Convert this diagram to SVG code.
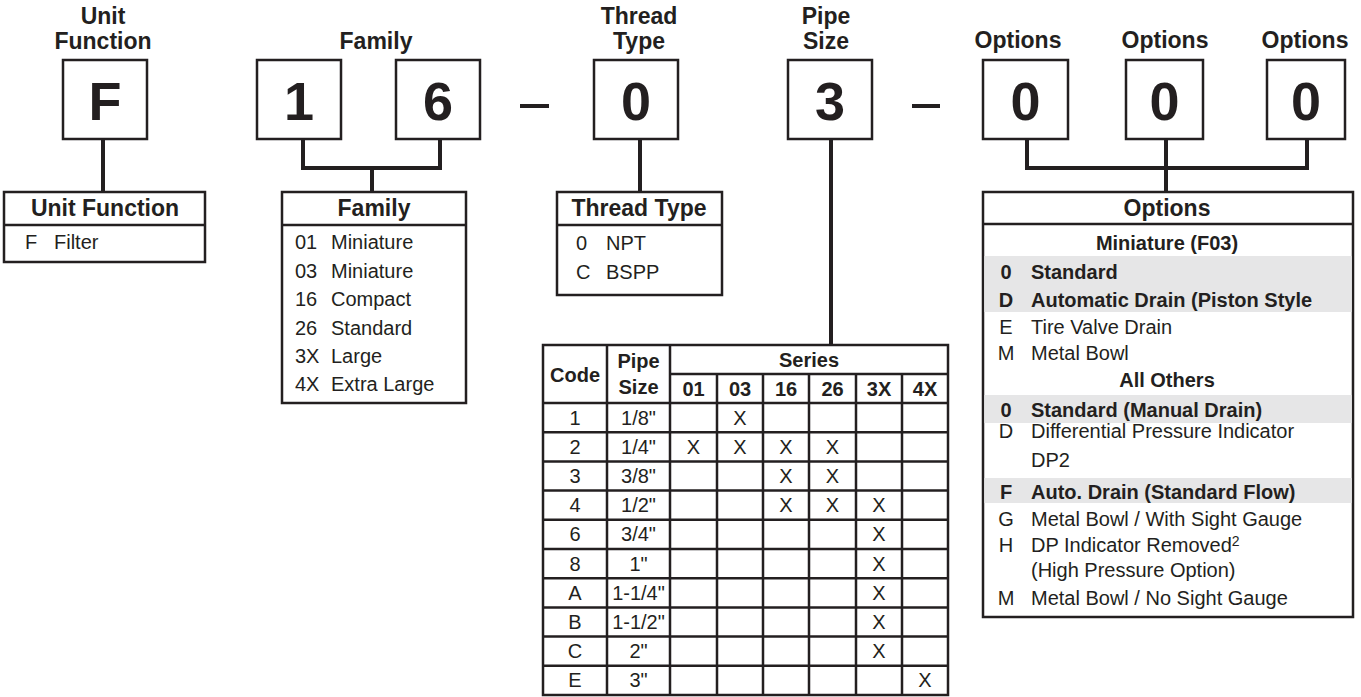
<svg xmlns="http://www.w3.org/2000/svg" width="1361" height="697" viewBox="0 0 1361 697">
<style>
text{font-family:"Liberation Sans",Arial,Helvetica,sans-serif;fill:#231f20}
.t{font-size:23px;font-weight:bold;text-anchor:middle}
.d{font-size:54px;font-weight:bold;text-anchor:middle}
.h{font-size:23px;font-weight:bold;text-anchor:middle}
.b{font-size:20px}
.bb{font-size:20px;font-weight:bold}
.c{text-anchor:middle}
.box{fill:#fff;stroke:#231f20;stroke-width:2.5}
.tbl{fill:#fff;stroke:#231f20;stroke-width:2.5}
.ln{stroke:#231f20;stroke-width:2.5;fill:none}
.con{stroke:#231f20;stroke-width:4;fill:none}
.band{fill:#e6e6e7}
</style>
<rect width="1361" height="697" fill="#fff"/>

<g id="connectors">
<line class="con" x1="103" y1="139" x2="103" y2="192"/>
<polyline class="con" points="303,139 303,168 440,168 440,139"/>
<line class="con" x1="372" y1="168" x2="372" y2="192"/>
<line class="con" x1="640" y1="139" x2="640" y2="192"/>
<line class="con" x1="831" y1="139" x2="831" y2="345"/>
<polyline class="con" points="1027,139 1027,168 1307,168 1307,139"/>
<line class="con" x1="1166" y1="139" x2="1166" y2="192"/>
<rect x="520" y="104" width="29" height="4" fill="#231f20"/>
<rect x="912" y="104" width="28" height="4" fill="#231f20"/>
</g>

<g id="code-unit-function">
<text class="t" x="103" y="24">Unit</text>
<text class="t" x="103" y="49">Function</text>
<rect class="box" x="63" y="60" width="84" height="79"/>
<text class="d" x="105" y="120">F</text>
</g>

<g id="code-family">
<text class="t" x="376" y="49">Family</text>
<rect class="box" x="257" y="60" width="84" height="79"/>
<text class="d" x="299" y="120">1</text>
<rect class="box" x="396" y="60" width="84" height="79"/>
<text class="d" x="438" y="120">6</text>
</g>

<g id="code-thread">
<text class="t" x="639" y="24">Thread</text>
<text class="t" x="639" y="49">Type</text>
<rect class="box" x="594" y="60" width="84" height="79"/>
<text class="d" x="636" y="120">0</text>
</g>

<g id="code-pipe">
<text class="t" x="826" y="24">Pipe</text>
<text class="t" x="826" y="49">Size</text>
<rect class="box" x="788" y="60" width="84" height="79"/>
<text class="d" x="830" y="120">3</text>
</g>

<g id="code-options">
<text class="t" x="1018" y="48">Options</text>
<text class="t" x="1165" y="48">Options</text>
<text class="t" x="1305" y="48">Options</text>
<rect class="box" x="983" y="60" width="85" height="79"/>
<text class="d" x="1025.5" y="120">0</text>
<rect class="box" x="1126" y="60" width="77" height="79"/>
<text class="d" x="1164.5" y="120">0</text>
<rect class="box" x="1267" y="60" width="78" height="79"/>
<text class="d" x="1306" y="120">0</text>
</g>

<g id="table-unit-function">
<rect class="tbl" x="4" y="192" width="201" height="70"/>
<line class="ln" x1="4" y1="225" x2="205" y2="225"/>
<text class="h" x="105" y="216">Unit Function</text>
<text class="b" x="25" y="249">F</text>
<text class="b" x="54" y="249">Filter</text>
</g>

<g id="table-family">
<rect class="tbl" x="282" y="192" width="184" height="211"/>
<line class="ln" x1="282" y1="225" x2="466" y2="225"/>
<text class="h" x="374" y="216">Family</text>
<text class="b" x="295" y="249">01</text><text class="b" x="331" y="249">Miniature</text>
<text class="b" x="295" y="277.5">03</text><text class="b" x="331" y="277.5">Miniature</text>
<text class="b" x="295" y="306">16</text><text class="b" x="331" y="306">Compact</text>
<text class="b" x="295" y="334.5">26</text><text class="b" x="331" y="334.5">Standard</text>
<text class="b" x="295" y="363">3X</text><text class="b" x="331" y="363">Large</text>
<text class="b" x="295" y="391">4X</text><text class="b" x="331" y="391">Extra Large</text>
</g>

<g id="table-thread">
<rect class="tbl" x="557" y="192" width="165" height="103"/>
<line class="ln" x1="557" y1="225" x2="722" y2="225"/>
<text class="h" x="639" y="216">Thread Type</text>
<text class="b" x="576" y="250">0</text><text class="b" x="606" y="250">NPT</text>
<text class="b" x="576" y="279">C</text><text class="b" x="606" y="279">BSPP</text>
</g>

<g id="table-pipe">
<rect class="tbl" x="543" y="345" width="405" height="350"/>
<line class="ln" x1="670" y1="374" x2="948" y2="374"/>
<line class="ln" x1="543" y1="403" x2="948" y2="403"/>
<line class="ln" x1="607" y1="345" x2="607" y2="695"/>
<line class="ln" x1="670" y1="345" x2="670" y2="695"/>
<line class="ln" x1="717" y1="374" x2="717" y2="695"/>
<line class="ln" x1="763" y1="374" x2="763" y2="695"/>
<line class="ln" x1="809" y1="374" x2="809" y2="695"/>
<line class="ln" x1="856" y1="374" x2="856" y2="695"/>
<line class="ln" x1="902" y1="374" x2="902" y2="695"/>
<line class="ln" x1="543" y1="432.2" x2="948" y2="432.2"/>
<line class="ln" x1="543" y1="461.4" x2="948" y2="461.4"/>
<line class="ln" x1="543" y1="490.6" x2="948" y2="490.6"/>
<line class="ln" x1="543" y1="519.8" x2="948" y2="519.8"/>
<line class="ln" x1="543" y1="549" x2="948" y2="549"/>
<line class="ln" x1="543" y1="578.2" x2="948" y2="578.2"/>
<line class="ln" x1="543" y1="607.4" x2="948" y2="607.4"/>
<line class="ln" x1="543" y1="636.6" x2="948" y2="636.6"/>
<line class="ln" x1="543" y1="665.8" x2="948" y2="665.8"/>
<text class="bb c" x="575" y="382">Code</text>
<text class="bb c" x="638.5" y="368">Pipe</text>
<text class="bb c" x="638.5" y="394">Size</text>
<text class="bb c" x="809" y="367">Series</text>
<text class="bb c" x="693.5" y="396">01</text>
<text class="bb c" x="740" y="396">03</text>
<text class="bb c" x="786" y="396">16</text>
<text class="bb c" x="832.5" y="396">26</text>
<text class="bb c" x="879" y="396">3X</text>
<text class="bb c" x="925" y="396">4X</text>
<text class="b c" x="575" y="424.5">1</text><text class="b c" x="638.5" y="424.5">1/8"</text><text class="b c" x="740" y="424.5">X</text>
<text class="b c" x="575" y="453.7">2</text><text class="b c" x="638.5" y="453.7">1/4"</text><text class="b c" x="693.5" y="453.7">X</text><text class="b c" x="740" y="453.7">X</text><text class="b c" x="786" y="453.7">X</text><text class="b c" x="832.5" y="453.7">X</text>
<text class="b c" x="575" y="482.9">3</text><text class="b c" x="638.5" y="482.9">3/8"</text><text class="b c" x="786" y="482.9">X</text><text class="b c" x="832.5" y="482.9">X</text>
<text class="b c" x="575" y="512.1">4</text><text class="b c" x="638.5" y="512.1">1/2"</text><text class="b c" x="786" y="512.1">X</text><text class="b c" x="832.5" y="512.1">X</text><text class="b c" x="879" y="512.1">X</text>
<text class="b c" x="575" y="541.3">6</text><text class="b c" x="638.5" y="541.3">3/4"</text><text class="b c" x="879" y="541.3">X</text>
<text class="b c" x="575" y="570.5">8</text><text class="b c" x="638.5" y="570.5">1"</text><text class="b c" x="879" y="570.5">X</text>
<text class="b c" x="575" y="599.7">A</text><text class="b c" x="638.5" y="599.7">1-1/4"</text><text class="b c" x="879" y="599.7">X</text>
<text class="b c" x="575" y="628.9">B</text><text class="b c" x="638.5" y="628.9">1-1/2"</text><text class="b c" x="879" y="628.9">X</text>
<text class="b c" x="575" y="658.1">C</text><text class="b c" x="638.5" y="658.1">2"</text><text class="b c" x="879" y="658.1">X</text>
<text class="b c" x="575" y="687.3">E</text><text class="b c" x="638.5" y="687.3">3"</text><text class="b c" x="925" y="687.3">X</text>
</g>

<g id="table-options">
<rect class="tbl" x="983" y="192" width="370" height="425"/>
<rect class="band" x="984.3" y="256" width="367.4" height="56"/>
<rect class="band" x="984.3" y="395" width="367.4" height="28"/>
<rect class="band" x="984.3" y="478" width="367.4" height="25"/>
<line class="ln" x1="983" y1="224" x2="1353" y2="224"/>
<text class="h" x="1167" y="216">Options</text>
<text class="bb c" x="1167" y="250">Miniature (F03)</text>
<text class="bb c" x="1006" y="279">0</text><text class="bb" x="1031" y="279">Standard</text>
<text class="bb c" x="1006" y="307">D</text><text class="bb" x="1031" y="307">Automatic Drain (Piston Style</text>
<text class="b c" x="1006" y="334">E</text><text class="b" x="1031" y="334">Tire Valve Drain</text>
<text class="b c" x="1006" y="360">M</text><text class="b" x="1031" y="360">Metal Bowl</text>
<text class="bb c" x="1167" y="387">All Others</text>
<text class="bb c" x="1006" y="417">0</text><text class="bb" x="1031" y="417">Standard (Manual Drain)</text>
<text class="b c" x="1006" y="438">D</text><text class="b" x="1031" y="438">Differential Pressure Indicator</text>
<text class="b" x="1031" y="467">DP2</text>
<text class="bb c" x="1006" y="499">F</text><text class="bb" x="1031" y="499">Auto. Drain (Standard Flow)</text>
<text class="b c" x="1006" y="526">G</text><text class="b" x="1031" y="526">Metal Bowl / With Sight Gauge</text>
<text class="b c" x="1006" y="552">H</text><text class="b" x="1031" y="552">DP Indicator Removed<tspan font-size="14" dy="-6">2</tspan></text>
<text class="b" x="1031" y="577">(High Pressure Option)</text>
<text class="b c" x="1006" y="605">M</text><text class="b" x="1031" y="605">Metal Bowl / No Sight Gauge</text>
</g>
</svg>
